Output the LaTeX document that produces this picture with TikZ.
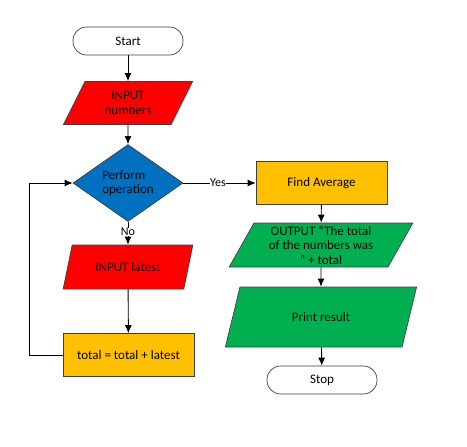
\documentclass[tikz,border=0pt]{standalone}
\usepackage{fontspec}
\setmainfont{Carlito}
\usetikzlibrary{shapes.geometric,arrows.meta}
\definecolor{boxred}{HTML}{FF0000}
\definecolor{boxblue}{HTML}{0070C0}
\definecolor{boxgold}{HTML}{FFC000}
\definecolor{boxgreen}{HTML}{00B050}
\definecolor{edgegray}{HTML}{3F3F3F}
\tikzset{
  base/.style={draw=edgegray, line width=0.7pt, font=\fontsize{13}{14.5}\selectfont, align=center, inner sep=1pt},
  terminal/.style={base, rectangle, rounded corners=13.5pt, fill=white, minimum width=110pt, minimum height=28pt},
  process/.style={base, rectangle, fill=boxgold, minimum width=131pt, minimum height=43pt},
  io/.style={base, trapezium, trapezium left angle=64, trapezium right angle=116, trapezium stretches=true},
  decision/.style={base, diamond, fill=boxblue, minimum width=110pt, minimum height=65pt, inner sep=0pt, align=left},
  flow/.style={-{Latex[length=8pt,width=7pt]}, line width=0.9pt},
  lbl/.style={fill=white, inner sep=0.5pt, font=\fontsize{12}{14.5}\selectfont}
}
\begin{document}
\begin{tikzpicture}[x=1pt,y=-1pt]
            \useasboundingbox (0,0) rectangle (467,447);
            % left column
            \node[terminal] (start) at (128,41) {Start};
            \node[io, fill=boxred, minimum width=130pt, minimum height=43pt] (innum) at (128,103) {INPUT\\numbers};
            \node[decision] (perform) at (128,183) {Perform\\operation};
            \node[io, fill=boxred, minimum width=130pt, minimum height=44pt] (inlatest) at (128,267) {INPUT latest};
            \node[process] (total) at (128.5,355) {total = total + latest};
            % right column
            \node[process] (average) at (321.5,183) {Find Average};
            \node[io, fill=boxgreen, minimum width=184pt, minimum height=44pt] (output) at (321,245) {OUTPUT “The total\\of the numbers was\\” + total};
            \node[io, fill=boxgreen, minimum width=192pt, minimum height=60pt] (print) at (321,317) {Print result};
            \node[terminal] (stop) at (322,380) {Stop};
            \coordinate (loopdown) at (29,355);
            \coordinate (loopup) at (29,183);
            % connectors
            \draw[flow] (start) -- (innum);
            \draw[flow] (innum) -- (perform);
            \draw[flow] (perform) -- node[lbl, pos=0.45]{No} (inlatest);
            \draw[flow] (inlatest) -- (total);
            \draw[flow] (total.west) -- (loopdown) -- (loopup) -- (perform.west);
            \draw[flow] (perform.east) -- node[lbl, pos=0.48]{Yes} (average.west);
            \draw[flow] (average) -- (output);
            \draw[flow] (output) -- (print);
            \draw[flow] (print) -- (stop);
        \end{tikzpicture}
\end{document}
